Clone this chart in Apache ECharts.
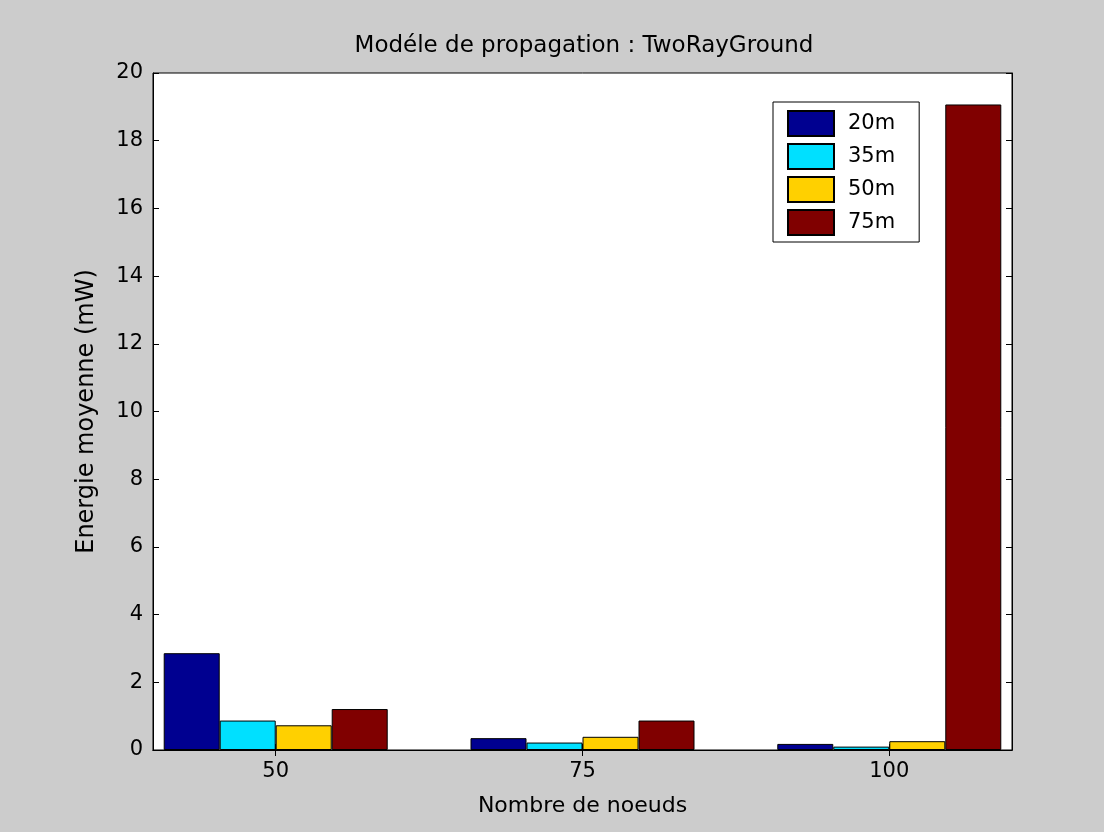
<!DOCTYPE html>
<html>
<head>
<meta charset="utf-8">
<script src="https://cdn.jsdelivr.net/npm/echarts@6/dist/echarts.min.js"></script>
<style>html,body{margin:0;padding:0;background:#cccccc;}#c{width:1104px;height:832px;}</style>
</head>
<body>
<div id="c"></div>
<script>
const categories = ['50', '75', '100'];
const seriesNames = ['20m', '35m', '50m', '75m'];
const s20 = [2.86, 0.35, 0.18];
const s35 = [0.87, 0.22, 0.10];
const s50 = [0.73, 0.39, 0.26];
const s75 = [1.21, 0.87, 19.07];
const yTicks = [0, 2, 4, 6, 8, 10, 12, 14, 16, 18, 20];
const colors = ['#000090', '#00e0ff', '#ffd000', '#800000'];

const FONT = 'DejaVu Sans';
const chart = echarts.init(document.getElementById('c'), null, {renderer: 'canvas'});
const positions = categories.map((c, i) => i + 1);
const allSeries = [s20, s35, s50, s75];

const xCommon = {
  type: 'value', min: 0.6, max: 3.4,
  axisLine: {show: true, lineStyle: {color: '#000', width: 1}},
  splitLine: {show: false},
  axisTick: {show: true, inside: true, length: 6, customValues: positions, lineStyle: {color: '#000'}},
};
const yCommon = {
  type: 'value', min: 0, max: 20, interval: 2,
  axisLine: {show: true, lineStyle: {color: '#000', width: 1}},
  splitLine: {show: false},
  axisTick: {show: true, inside: true, length: 6, lineStyle: {color: '#000'}},
};

chart.setOption({
  backgroundColor: '#cccccc',
  animation: false,
  title: {
    text: 'Modéle de propagation : TwoRayGround',
    left: 579, top: 30, textAlign: 'center',
    textStyle: {fontFamily: FONT, fontSize: 23, fontWeight: 'normal', color: '#000'}
  },
  grid: {left: 153, top: 73, right: 92, bottom: 82, show: true, backgroundColor: '#ffffff', borderColor: '#000', borderWidth: 1},
  legend: {
    orient: 'vertical', left: 773, top: 102,
    padding: [8, 24, 6, 14], itemGap: 6, itemWidth: 46, itemHeight: 25,
    icon: 'rect',
    backgroundColor: '#ffffff', borderColor: '#000', borderWidth: 1,
    textStyle: {fontFamily: FONT, fontSize: 21, color: '#000', padding: [0, 0, 0, 9], lineHeight: 25},
    data: seriesNames
  },
  xAxis: [
    Object.assign({}, xCommon, {
      position: 'bottom',
      name: 'Nombre de noeuds', nameLocation: 'middle', nameGap: 45,
      nameTextStyle: {fontFamily: FONT, fontSize: 22, color: '#000'},
      axisLabel: {show: true, customValues: positions, margin: 11,
        formatter: v => categories[Math.round(v) - 1] || '',
        fontFamily: FONT, fontSize: 21, color: '#000'}
    }),
    Object.assign({}, xCommon, {position: 'top', axisLabel: {show: false}})
  ],
  yAxis: [
    Object.assign({}, yCommon, {
      position: 'left',
      name: 'Energie moyenne (mW)', nameLocation: 'middle', nameGap: 54,
      nameTextStyle: {fontFamily: FONT, fontSize: 24, color: '#000'},
      axisLabel: {show: true, margin: 10, fontFamily: FONT, fontSize: 21, color: '#000',
        customValues: yTicks}
    }),
    Object.assign({}, yCommon, {position: 'right', axisLabel: {show: false}})
  ],
  series: allSeries.map((arr, k) => ({
    name: seriesNames[k],
    type: 'bar',
    xAxisIndex: 0, yAxisIndex: 0,
    barWidth: 56, barGap: '0%',
    itemStyle: {color: colors[k], borderColor: '#000', borderWidth: 1},
    data: arr.map((v, i) => [positions[i], v])
  }))
});
</script>
</body>
</html>
